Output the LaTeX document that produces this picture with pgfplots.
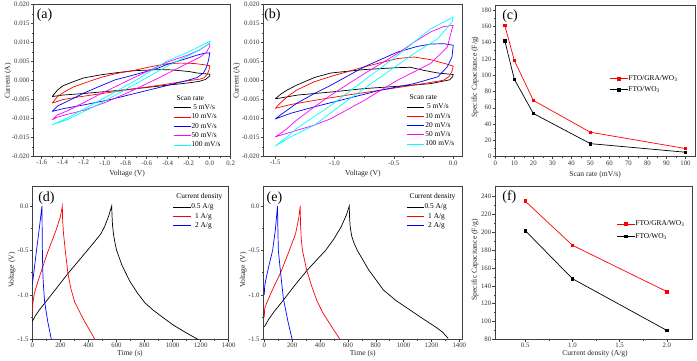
\documentclass[border=0pt]{standalone}
\usepackage{fontspec}
\setmainfont{Liberation Serif}
\usepackage{pgfplots}
\pgfplotsset{compat=1.18}

\definecolor{cvcyan}{RGB}{0,255,255}
\definecolor{cvmag}{RGB}{255,0,255}

\tikzset{
  panel/.style={font=\fontsize{14}{16}\selectfont, anchor=center},
  ltitle/.style={font=\fontsize{7.4}{9}\selectfont, anchor=west},
}
\pgfplotsset{
  /pgf/number format/assume math mode=true,
  /pgf/number format/set thousands separator={},
  every axis/.append style={
    scale only axis,
    axis line style={black!75, line width=0.5pt},
    tick pos=left, tick align=outside, minor tick num=1,
    major tick length=2.6pt, minor tick length=1.5pt,
    every tick/.style={black!75, line width=0.45pt},
    tick label style={font=\fontsize{6.8}{8}\selectfont, text=black!80, inner sep=1pt},
    label style={font=\fontsize{7.6}{9}\selectfont, text=black!85, inner sep=0.5pt},
    legend style={draw=none, fill=none, font=\fontsize{7.4}{9}\selectfont,
      anchor=north west, inner sep=0pt, row sep=1pt,
      nodes={inner sep=0.5pt, text height=5.5pt, text depth=1.8pt}},
    legend cell align=left,
    every axis plot/.append style={line width=0.7pt},
  },
}

\begin{document}
\begin{tikzpicture}
\useasboundingbox (0pt,0pt) rectangle (697pt,361pt);

% ---------------- (a) CV, FTO/WO3 ----------------
\begin{axis}[at={(33.3pt,204.3pt)}, anchor=south west, width=197.4pt, height=152.2pt,
  xmin=-1.68, xmax=0.2, ymin=-0.02, ymax=0.02,
  xtick={-1.6,-1.4,...,0.21}, ytick={-0.02,-0.015,...,0.021},
  xticklabel style={/pgf/number format/.cd, fixed, fixed zerofill, precision=1},
  yticklabel style={/pgf/number format/.cd, fixed, fixed zerofill, precision=3},
  scaled y ticks=false,
  xlabel={Voltage (V)}, ylabel={Current (A)},
  xlabel style={at={(axis description cs:0.475,-0.11)}, anchor=center},
  ylabel style={at={(axis description cs:-0.128,0.497)}, anchor=center},
  legend style={at={(axis description cs:0.708,0.35)}},
]
\addplot[black] coordinates {(-1.5,-0.0042) (-1.45,-0.0025) (-1.4,-0.0014) (-1.3,-0.0003) (-1.2,0.0007) (-1.04,0.0015) (-0.88,0.0021) (-0.72,0.0026) (-0.55,0.0028) (-0.47,0.0029) (-0.35,0.0028) (-0.28,0.0026) (-0.2,0.0024) (-0.12,0.0020) (-0.05,0.0018) (0,0.0017)
 (0,0.0012) (-0.04,0.0003) (-0.1,-0.0002) (-0.2,-0.0006) (-0.4,-0.0012) (-0.6,-0.0018) (-0.8,-0.0024) (-1.0,-0.0029) (-1.2,-0.0034) (-1.4,-0.0038) (-1.5,-0.0042)};
\addlegendentry{\ 5 mV/s}
\addplot[red] coordinates {(-1.5,-0.0059) (-1.45,-0.0042) (-1.38,-0.0029) (-1.3,-0.0017) (-1.2,-0.0007) (-1.04,0.0008) (-0.9,0.0018) (-0.72,0.0027) (-0.55,0.0037) (-0.41,0.0044) (-0.28,0.0046) (-0.15,0.0045) (-0.06,0.0042) (0,0.0039)
 (-0.005,0.0030) (-0.02,0.0018) (-0.05,0.0008) (-0.09,0.0004) (-0.25,-0.0002) (-0.4,-0.0009) (-0.57,-0.0016) (-0.75,-0.0023) (-0.9,-0.0029) (-1.1,-0.0037) (-1.25,-0.0043) (-1.4,-0.0050) (-1.5,-0.0059)};
\addlegendentry{10 mV/s}
\addplot[blue] coordinates {(-1.5,-0.0081) (-1.45,-0.0067) (-1.36,-0.0055) (-1.2,-0.0033) (-1.04,-0.0014) (-0.9,0.0002) (-0.72,0.0015) (-0.5,0.0032) (-0.41,0.0042) (-0.22,0.0058) (-0.12,0.0067) (-0.05,0.0072) (0,0.0073)
 (-0.01,0.0055) (-0.03,0.0035) (-0.06,0.0020) (-0.12,0.0008) (-0.22,0.0) (-0.45,-0.0016) (-0.7,-0.0033) (-0.95,-0.0050) (-1.2,-0.0064) (-1.4,-0.0074) (-1.5,-0.0081)};
\addlegendentry{20 mV/s}
\addplot[cvmag] coordinates {(-1.5,-0.0103) (-1.45,-0.0090) (-1.36,-0.0080) (-1.2,-0.0058) (-1.04,-0.0035) (-0.72,0.0008) (-0.41,0.0048) (-0.22,0.0066) (-0.1,0.0080) (0,0.0098)
 (0,0.0090) (-0.03,0.0075) (-0.09,0.0062) (-0.25,0.0040) (-0.5,0.0005) (-0.75,-0.0028) (-1.0,-0.0058) (-1.2,-0.0078) (-1.36,-0.0089) (-1.45,-0.0096) (-1.5,-0.0103)};
\addlegendentry{50 mV/s}
\addplot[cvcyan] coordinates {(-1.5,-0.0116) (-1.36,-0.0099) (-1.04,-0.0051) (-0.72,-0.0002) (-0.41,0.0051) (-0.22,0.0073) (0,0.0103)
 (0,0.0098) (-0.09,0.0081) (-0.41,0.0037) (-0.72,-0.0011) (-1.04,-0.0060) (-1.36,-0.0103) (-1.5,-0.0116)};
\addlegendentry{100 mV/s}
\node[ltitle] at (axis description cs:0.708,0.386) {Scan rate};
\node[panel] at (axis description cs:0.057,0.931) {(a)};
\end{axis}

% ---------------- (b) CV, FTO/GRA/WO3 ----------------
\begin{axis}[at={(263.3pt,204.3pt)}, anchor=south west, width=199.4pt, height=152.2pt,
  xmin=-1.6, xmax=0.08, ymin=-0.02, ymax=0.02,
  xtick={-1.5,-1.0,-0.5,0.0}, ytick={-0.02,-0.015,...,0.021},
  xticklabel style={/pgf/number format/.cd, fixed, fixed zerofill, precision=1},
  yticklabel style={/pgf/number format/.cd, fixed, fixed zerofill, precision=3},
  scaled y ticks=false,
  xlabel={Voltage (V)}, ylabel={Current (A)},
  xlabel style={at={(axis description cs:0.5,-0.11)}, anchor=center},
  ylabel style={at={(axis description cs:-0.133,0.497)}, anchor=center},
  legend style={at={(axis description cs:0.72,0.356)}},
]
\addplot[black] coordinates {(-1.5,-0.0048) (-1.45,-0.0035) (-1.4,-0.0025) (-1.32,-0.0012) (-1.17,0.0008) (-1.03,0.0020) (-0.75,0.0029) (-0.47,0.0034) (-0.36,0.0035) (-0.25,0.0027) (-0.13,0.0020) (0,0.0016)
 (-0.005,0.0010) (-0.03,0.0002) (-0.19,-0.0008) (-0.47,-0.0015) (-0.75,-0.0021) (-1.03,-0.0030) (-1.31,-0.0038) (-1.5,-0.0048)};
\addlegendentry{\ 5 mV/s}
\addplot[red] coordinates {(-1.5,-0.0073) (-1.45,-0.0057) (-1.4,-0.0043) (-1.32,-0.0025) (-1.17,-0.0003) (-1.03,0.0011) (-0.75,0.0036) (-0.47,0.0058) (-0.33,0.0062) (-0.19,0.0055) (-0.05,0.0043) (0,0.0038)
 (-0.01,0.0025) (-0.03,0.0012) (-0.08,0.0001) (-0.33,-0.0012) (-0.61,-0.0025) (-0.89,-0.0038) (-1.17,-0.0052) (-1.37,-0.0063) (-1.5,-0.0073)};
\addlegendentry{10 mV/s}
\addplot[blue] coordinates {(-1.5,-0.0101) (-1.45,-0.0089) (-1.4,-0.0078) (-1.32,-0.0060) (-1.17,-0.0034) (-1.03,-0.0012) (-0.75,0.0036) (-0.47,0.0075) (-0.3,0.0090) (-0.19,0.0096) (-0.08,0.0097) (0,0.0093)
 (-0.01,0.0062) (-0.05,0.0036) (-0.13,0.0010) (-0.33,-0.0008) (-0.61,-0.0025) (-0.89,-0.0047) (-1.17,-0.0069) (-1.37,-0.0086) (-1.5,-0.0101)};
\addlegendentry{20 mV/s}
\addplot[cvmag] coordinates {(-1.5,-0.0148) (-1.45,-0.0138) (-1.4,-0.0126) (-1.32,-0.0104) (-1.17,-0.0069) (-1.03,-0.0038) (-0.75,0.0018) (-0.47,0.0071) (-0.33,0.0101) (-0.19,0.0128) (-0.08,0.0142) (0,0.0145)
 (-0.01,0.0136) (-0.05,0.0088) (-0.19,0.0045) (-0.47,0.0001) (-0.75,-0.0052) (-1.03,-0.0100) (-1.17,-0.0117) (-1.31,-0.0130) (-1.5,-0.0148)};
\addlegendentry{50 mV/s}
\addplot[cvcyan] coordinates {(-1.5,-0.0172) (-1.4,-0.0148) (-1.32,-0.0126) (-1.03,-0.0065) (-0.75,0.0001) (-0.47,0.0066) (-0.19,0.0136) (0,0.0167)
 (-0.01,0.0154) (-0.13,0.0110) (-0.33,0.0071) (-0.61,0.0010) (-0.89,-0.0052) (-1.17,-0.0117) (-1.37,-0.0148) (-1.5,-0.0172)};
\addlegendentry{100 mV/s}
\node[ltitle] at (axis description cs:0.716,0.392) {Scan rate};
\node[panel] at (axis description cs:0.046,0.931) {(b)};
\end{axis}

% ---------------- (c) capacitance vs scan rate ----------------
\begin{axis}[at={(495.3pt,204.3pt)}, anchor=south west, width=199.7pt, height=151.7pt,
  xmin=0, xmax=105, ymin=0, ymax=186,
  xtick={0,10,...,100}, ytick={0,20,...,180},
  xlabel={Scan rate (mV/s)}, ylabel={Specific Capacitance (F/g)},
  xlabel style={at={(axis description cs:0.5,-0.12)}, anchor=center},
  ylabel style={at={(axis description cs:-0.102,0.525)}, anchor=center},
  legend style={at={(axis description cs:0.574,0.542)}, row sep=2.5pt},
  mark size=1.3pt,
]
\addplot[red, mark=square*] coordinates {(5,161) (10,118) (20,69) (50,30) (100,10)};
\addlegendentry{FTO/GRA/WO\textsubscript{3}}
\addplot[black, mark=square*] coordinates {(5,142) (10,95) (20,53) (50,16) (100,5.5)};
\addlegendentry{FTO/WO\textsubscript{3}}
\node[panel] at (axis description cs:0.074,0.927) {(c)};
\end{axis}

% ---------------- (d) GCD, FTO/WO3 ----------------
\begin{axis}[at={(32.3pt,21.7pt)}, anchor=south west, width=196.4pt, height=152.6pt,
  xmin=0, xmax=1400, ymin=-1.5, ymax=0.217,
  xtick={0,200,...,1400}, ytick={-1.5,-1.0,-0.5,0.0},
  yticklabel style={/pgf/number format/.cd, fixed, fixed zerofill, precision=1},
  xlabel={Time (s)}, ylabel={Voltage (V)},
  xlabel style={at={(axis description cs:0.497,-0.097)}, anchor=center},
  ylabel style={at={(axis description cs:-0.103,0.453)}, anchor=center},
  legend style={at={(axis description cs:0.716,0.895)}},
]
\addplot[black] coordinates {(0,-1.30) (20,-1.24) (50,-1.17) (88,-1.095) (170,-0.93) (254,-0.76) (350,-0.58) (445,-0.40) (490,-0.31) (516,-0.23) (545,-0.11) (566,0)
 (568,-0.10) (572,-0.22) (580,-0.33) (590,-0.42) (601,-0.50) (640,-0.67) (696,-0.85) (750,-0.98) (803,-1.09) (860,-1.17) (910,-1.23) (1005,-1.34) (1100,-1.43) (1180,-1.50)};
\addlegendentry{0.5 A/g}
\addplot[red] coordinates {(0,-1.21) (5,-1.08) (15,-0.98) (40,-0.85) (75,-0.68) (112,-0.51) (170,-0.27) (200,-0.12) (214,0)
 (216,-0.15) (222,-0.30) (235,-0.50) (254,-0.76) (275,-0.93) (302,-1.08) (340,-1.20) (373,-1.30) (410,-1.40) (445,-1.50)};
\addlegendentry{\ \ 1 A/g}
\addplot[blue] coordinates {(0,-0.89) (10,-0.76) (30,-0.50) (50,-0.25) (69,0)
 (71,-0.40) (74,-0.70) (78,-0.86) (88,-1.08) (110,-1.30) (136,-1.50)};
\addlegendentry{\ \ 2 A/g}
\node[ltitle] at (axis description cs:0.716,0.931) {Current density};
\node[panel] at (axis description cs:0.072,0.927) {(d)};
\end{axis}

% ---------------- (e) GCD, FTO/GRA/WO3 ----------------
\begin{axis}[at={(263.3pt,21.7pt)}, anchor=south west, width=198.8pt, height=152.6pt,
  xmin=-7, xmax=1420, ymin=-1.5, ymax=0.217,
  xtick={0,200,...,1400}, ytick={-1.5,-1.0,-0.5,0.0},
  yticklabel style={/pgf/number format/.cd, fixed, fixed zerofill, precision=1},
  xlabel={Time (s)}, ylabel={Voltage (V)},
  xlabel style={at={(axis description cs:0.5,-0.097)}, anchor=center},
  ylabel style={at={(axis description cs:-0.1,0.453)}, anchor=center},
  legend style={at={(axis description cs:0.718,0.895)}},
]
\addplot[black] coordinates {(0,-1.36) (30,-1.28) (70,-1.19) (137,-1.06) (220,-0.89) (304,-0.73) (380,-0.60) (440,-0.50) (500,-0.37) (550,-0.24) (590,-0.10) (610,0)
 (612,-0.12) (617,-0.24) (628,-0.34) (645,-0.42) (668,-0.50) (750,-0.72) (855,-0.945) (950,-1.07) (1046,-1.17) (1140,-1.27) (1238,-1.37) (1280,-1.42) (1320,-1.49)};
\addlegendentry{0.5 A/g}
\addplot[red] coordinates {(0,-1.25) (3,-1.15) (20,-1.08) (60,-0.94) (120,-0.74) (180,-0.50) (225,-0.31) (248,-0.13) (258,0)
 (260,-0.20) (266,-0.38) (274,-0.50) (304,-0.72) (340,-0.90) (376,-1.06) (420,-1.20) (480,-1.35) (543,-1.50)};
\addlegendentry{\ \ 1 A/g}
\addplot[blue] coordinates {(0,-1.0) (3,-0.90) (15,-0.80) (35,-0.66) (60,-0.50) (80,-0.26) (95,0)
 (97,-0.20) (101,-0.50) (115,-0.72) (137,-1.04) (170,-1.30) (200,-1.50)};
\addlegendentry{\ \ 2 A/g}
\node[ltitle] at (axis description cs:0.718,0.931) {Current density};
\node[panel] at (axis description cs:0.056,0.927) {(e)};
\end{axis}

% ---------------- (f) capacitance vs current density ----------------
\begin{axis}[at={(495.0pt,21.7pt)}, anchor=south west, width=197.3pt, height=152.6pt,
  xmin=0.18, xmax=2.27, ymin=80, ymax=251.2,
  xtick={0.5,1.0,1.5,2.0}, ytick={80,100,...,240},
  xticklabel style={/pgf/number format/.cd, fixed, fixed zerofill, precision=1},
  xlabel={Current density (A/g)}, ylabel={Specific Capacitance (F/g)},
  xlabel style={at={(axis description cs:0.507,-0.097)}, anchor=center},
  ylabel style={at={(axis description cs:-0.101,0.52)}, anchor=center},
  legend style={at={(axis description cs:0.618,0.785)}, row sep=4pt},
  mark size=1.3pt,
]
\addplot[red, mark=square*] coordinates {(0.5,235) (1.0,185.5) (2.0,133.5)};
\addlegendentry{FTO/GRA/WO\textsubscript{3}}
\addplot[black, mark=square*] coordinates {(0.5,202) (1.0,148) (2.0,90)};
\addlegendentry{FTO/WO\textsubscript{3}}
\node[panel] at (axis description cs:0.073,0.929) {(f)};
\end{axis}
\end{tikzpicture}
\end{document}
